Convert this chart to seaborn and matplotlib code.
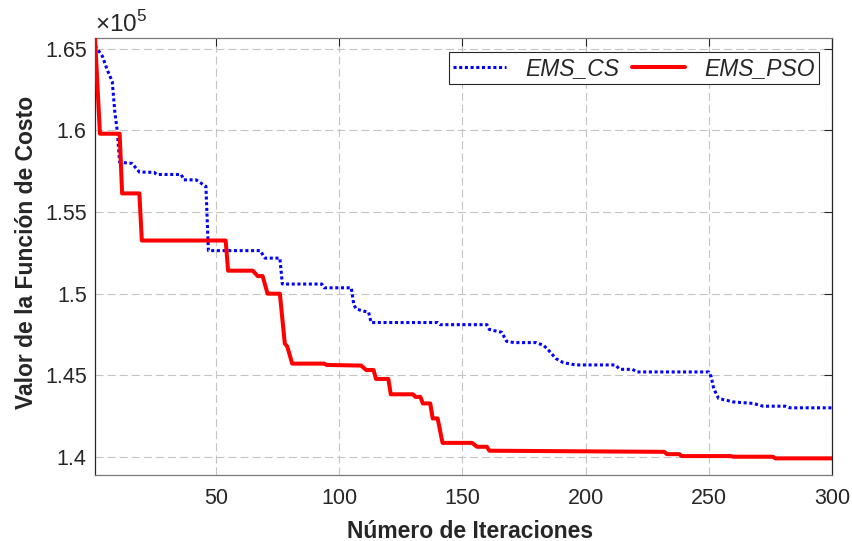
import matplotlib
matplotlib.use("Agg")
import matplotlib.pyplot as plt
import seaborn as sns
import pandas as pd
from matplotlib.ticker import FixedLocator, FuncFormatter

# Best-so-far cost per iteration (values in units of 1e5)
cs_iter = [1, 4, 6, 8, 9, 10, 11, 16, 19, 25, 26, 36, 37, 42, 46, 47, 68, 70, 76, 77,
           93, 94, 105, 106, 107, 110, 112, 113, 140, 141, 160, 161, 166, 168, 171,
           180, 183, 185, 188, 191, 196, 212, 214, 219, 221, 250, 251, 252, 254, 257,
           260, 268, 272, 281, 283, 300]
cs_cost = [1.652, 1.6455, 1.637, 1.630, 1.612, 1.600, 1.5805, 1.5798, 1.5745, 1.5743,
           1.5730, 1.5730, 1.5697, 1.5697, 1.5657, 1.5263, 1.5263, 1.5217, 1.5217,
           1.5058, 1.5058, 1.5035, 1.5035, 1.4930, 1.4905, 1.4892, 1.4886, 1.4822,
           1.4822, 1.4809, 1.4809, 1.4779, 1.4762, 1.4707, 1.4699, 1.4699, 1.4682,
           1.4652, 1.4601, 1.4576, 1.4562, 1.4562, 1.4535, 1.4535, 1.4519, 1.4519,
           1.4488, 1.4417, 1.4356, 1.4346, 1.4335, 1.4326, 1.4309, 1.4309, 1.4299,
           1.4299]

pso_iter = [1, 3, 11, 12, 19, 20, 54, 55, 65, 67, 69, 71, 76, 78, 79, 81, 94, 95, 109,
            111, 114, 115, 120, 121, 130, 131, 133, 134, 137, 138, 140, 142, 154, 156,
            160, 161, 232, 233, 238, 239, 259, 260, 276, 277, 300]
pso_cost = [1.657, 1.598, 1.598, 1.5614, 1.5614, 1.5325, 1.5325, 1.514, 1.514, 1.5107,
            1.5107, 1.4999, 1.4999, 1.4693, 1.4675, 1.457, 1.457, 1.4562, 1.4558,
            1.4531, 1.4531, 1.4476, 1.4476, 1.4382, 1.4382, 1.4366, 1.4366, 1.4326,
            1.4326, 1.4234, 1.4234, 1.4084, 1.4084, 1.406, 1.406, 1.4036, 1.4029,
            1.4015, 1.4015, 1.4003, 1.4003, 1.3999, 1.3999, 1.3989, 1.3989]

x_ticks = [50, 100, 150, 200, 250, 300]
y_ticks = [1.40, 1.45, 1.50, 1.55, 1.60, 1.65]
x_label = "Número de Iteraciones"
y_label = "Valor de la Función de Costo"
series_names = ["EMS_CS", "EMS_PSO"]
SCALE = 1e5

sns.set_style("white")
plt.rcParams["font.family"] = ["Liberation Sans", "DejaVu Sans"]
plt.rcParams["mathtext.fontset"] = "custom"
plt.rcParams["mathtext.rm"] = "Liberation Sans"
plt.rcParams["lines.scale_dashes"] = False

cs_df = pd.DataFrame({"iter": cs_iter, "cost": [v * SCALE for v in cs_cost]})
pso_df = pd.DataFrame({"iter": pso_iter, "cost": [v * SCALE for v in pso_cost]})

fig = plt.figure(figsize=(8.53, 5.41), dpi=100)
ax = fig.add_axes([95 / 853, 1 - 475 / 541, 737 / 853, 437 / 541])

sns.lineplot(data=cs_df, x="iter", y="cost", ax=ax, color="#0000ff",
             linewidth=2.2, label=series_names[0], zorder=3)
sns.lineplot(data=pso_df, x="iter", y="cost", ax=ax, color="#ff0000",
             linewidth=2.9, label=series_names[1], zorder=4)
blue_line = ax.lines[0]
blue_line.set_dashes((2.2, 1.9))
blue_line.set_dash_capstyle("butt")

ax.set_xlim(1, 300)
ax.set_ylim(1.3887 * SCALE, 1.6567 * SCALE)
ax.xaxis.set_major_locator(FixedLocator(x_ticks))
ax.yaxis.set_major_locator(FixedLocator([v * SCALE for v in y_ticks]))
ax.yaxis.set_major_formatter(FuncFormatter(lambda v, p: f"{v / SCALE:.2f}".rstrip("0").rstrip(".")))

ax.grid(True, color="#c4c4c4", linewidth=0.8, linestyle=(0, (5.8, 2.9)), zorder=0)
ax.tick_params(axis="both", direction="in", length=6, width=0.8, color="#262626",
               labelsize=15.5, top=True, right=True, labelcolor="#262626")
ax.tick_params(axis="x", pad=9)
ax.tick_params(axis="y", pad=6)
for side in ["left", "right"]:
    ax.spines[side].set_color("#262626")
    ax.spines[side].set_linewidth(0.9)
for side in ["top", "bottom"]:
    ax.spines[side].set_color("#7a7a7a")
    ax.spines[side].set_linewidth(0.9)
    ax.spines[side].set_visible(True)

ax.set_xlabel(x_label, fontsize=16.5, fontweight="bold", color="#262626")
ax.set_ylabel(y_label, fontsize=16.5, fontweight="bold", color="#262626")
ax.xaxis.set_label_coords(0.509, -0.102)
ax.yaxis.set_label_coords(-0.078, 0.51)

ax.text(0.0, 1.002, r"$\times10^{5}$", transform=ax.transAxes, ha="left", va="bottom",
        fontsize=17.5, color="#262626")

leg = ax.legend(loc="upper right", bbox_to_anchor=(0.9824, 0.968), borderaxespad=0,
                ncol=2, frameon=True, fancybox=False, handlelength=2.3,
                handletextpad=0.83, columnspacing=0.57, borderpad=0.2,
                prop={"family": "Liberation Sans", "style": "italic", "size": 16.5})
leg.get_frame().set_edgecolor("#262626")
leg.get_frame().set_linewidth(0.8)
leg.get_frame().set_facecolor("white")
leg.get_frame().set_alpha(1)
for t in leg.get_texts():
    t.set_color("#262626")

fig.savefig("out.png", dpi=100)
